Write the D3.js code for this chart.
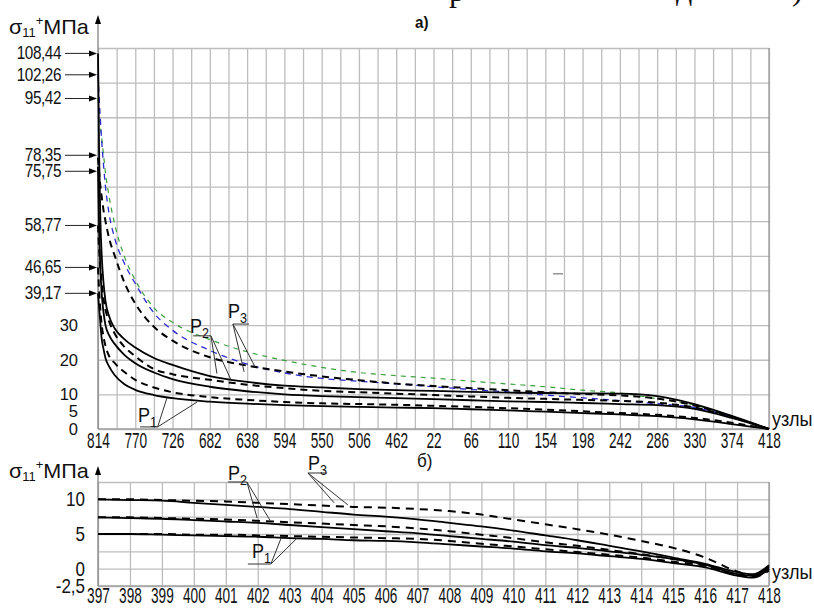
<!DOCTYPE html>
<html>
<head>
<meta charset="utf-8">
<script src="https://cdn.jsdelivr.net/npm/d3@7"></script>
<style>
  body { margin: 0; background: #fff; }
  svg { display: block; }
  text { font-family: "Liberation Sans", Arial, sans-serif; fill: #111; }
</style>
</head>
<body>
<div id="chart"></div>
<script>
// ---------- chart a) : stresses along nodes ----------
const nodesA = ["814","770","726","682","638","594","550","506","462","22","66","110","154","198","242","286","330","374","418"];
const yTicksA = [0, 5, 10, 20, 30];
const markedA = [108.44, 102.26, 95.42, 78.35, 75.75, 58.77, 46.65, 39.17];
// node position (index along the axis, fractional near the first node)
const posA = [0, 0.03, 0.06, 0.1, 0.15, 0.2, 0.3, 0.45, 0.7, 1, 1.5, 2, 3, 4, 5, 6, 7, 8, 9, 10, 11, 12, 13, 14, 15, 16, 17, 18];
const p3SolidA  = [108.44, 80, 62, 50, 42, 37, 32.5, 29, 26, 23.5, 20.5, 18.5, 15.3, 13.6, 12.5, 12.0, 11.5, 11.2, 11.0, 10.7, 10.5, 10.4, 10.3, 10.2, 9.5, 7.2, 3.8, 0];
const p3DashA   = [78.35, 74, 70.5, 67, 63, 60, 55, 50, 42.5, 36.2, 29.5, 25.5, 20.7, 18.3, 16.6, 15.2, 14.1, 13.1, 12.4, 11.8, 11.2, 10.6, 10.1, 9.7, 8.8, 6.8, 3.6, 0];
const blueDashA = [102.26, 96, 90, 83, 76, 70, 62, 55, 48, 42, 33.5, 28.5, 22.7, 18.7, 16.2, 14.6, 13.8, 13.0, 12.2, 11.4, 10.7, 9.8, 9.0, 8.2, 7.3, 6.2, 3.5, 0];
const greenDashA= [95.42, 92, 88, 84, 79, 74, 67, 59, 50, 43, 35, 30.8, 25.8, 22.3, 19.8, 17.8, 16.3, 15.4, 14.7, 13.8, 13.0, 12.2, 11.2, 10.4, 8.7, 6.9, 3.7, 0];
const p2SolidA  = [75.75, 58, 47, 39, 33.5, 30, 27, 24.5, 21.5, 19.0, 16.3, 14.4, 12.2, 10.9, 10.0, 9.5, 9.2, 8.9, 8.6, 8.3, 8.0, 7.8, 7.5, 7.2, 6.9, 5.8, 3.2, 0];
const p2DashA   = [58.77, 52, 47, 42, 37.5, 34.5, 31, 27.5, 23.8, 21, 17.3, 15.8, 14.2, 12.8, 11.8, 11.0, 10.6, 10.2, 9.8, 9.4, 9.0, 8.7, 8.4, 8.1, 7.6, 6.2, 3.4, 0];
const p1DashA   = [46.65, 40, 35, 30, 26.5, 24, 21, 19, 16.5, 14.2, 12.0, 10.6, 9.2, 8.4, 7.8, 7.4, 7.2, 7.0, 6.7, 6.4, 6.0, 5.6, 5.1, 4.6, 4.1, 3.2, 1.8, 0];
const p1SolidA  = [39.17, 35, 31, 26, 23, 20.5, 18, 15.5, 13, 11.3, 9.8, 8.9, 7.9, 7.3, 6.9, 6.6, 6.4, 6.2, 6.0, 5.7, 5.4, 5.0, 4.6, 4.2, 3.7, 2.8, 1.4, 0];

// ---------- chart б) : nodes 397..418 ----------
const nodesB = ["397","398","399","400","401","402","403","404","405","406","407","408","409","410","411","412","413","414","415","416","417","418"];
const yTicksB = [10, 5, 0, -2.5];
const posB = [0, 1, 2, 3, 4, 5, 6, 7, 8, 9, 10, 11, 12, 13, 14, 15, 16, 17, 18, 19, 20, 20.5, 21];
const p3SolidB = [10.0, 9.9, 9.8, 9.5, 9.2, 8.9, 8.6, 8.2, 7.8, 7.5, 7.1, 6.6, 6.1, 5.5, 4.8, 4.1, 3.3, 2.5, 1.6, 0.7, -0.5, -0.8, 0.5];
const p3DashB  = [10.0, 10.0, 9.9, 9.8, 9.7, 9.5, 9.3, 9.1, 8.9, 8.8, 8.6, 8.3, 7.8, 7.1, 6.4, 5.7, 4.9, 4.0, 3.0, 1.6, -0.4, -1.0, -0.2];
const p2SolidB = [7.4, 7.3, 7.2, 7.0, 6.8, 6.6, 6.3, 6.0, 5.7, 5.4, 5.1, 4.7, 4.3, 3.9, 3.4, 3.0, 2.5, 2.0, 1.4, 0.6, -0.8, -1.0, 0.3];
const p2DashB  = [7.4, 7.4, 7.3, 7.2, 7.1, 6.9, 6.7, 6.5, 6.3, 6.1, 5.8, 5.4, 4.9, 4.4, 3.8, 3.3, 2.7, 2.1, 1.4, 0.5, -0.9, -1.1, 0];
const p1SolidB = [5.0, 5.0, 4.9, 4.8, 4.7, 4.6, 4.4, 4.3, 4.1, 4.0, 3.8, 3.5, 3.2, 2.9, 2.5, 2.2, 1.8, 1.4, 0.8, 0.2, -1.0, -1.3, 0];
const p1DashB  = [5.0, 5.0, 5.0, 4.9, 4.9, 4.8, 4.7, 4.6, 4.5, 4.4, 4.3, 4.0, 3.6, 3.2, 2.8, 2.4, 2.0, 1.6, 1.0, 0.4, -0.8, -1.2, -0.3];

// callouts: label, text anchor, underline [from,to], leader targets  (data units)
const calloutsA = [
  { name: "P", sub: "2", at: [2.47, 27.7], bar: [[2.55, 26.9], [3.03, 26.9]], to: [[3.19, 16.0], [3.57, 14.1]] },
  { name: "P", sub: "3", at: [3.49, 32.0], bar: [[3.62, 30.3], [4.05, 30.3]], to: [[3.92, 16.5], [4.20, 18.2]] },
  { name: "P", sub: "1", at: [1.07, 1.9],  bar: [[1.13, 0.6],  [1.60, 0.6]],  to: [[1.85, 9.0],  [2.66, 7.8]] }
];
const calloutsB = [
  { name: "P", sub: "2", at: [4.07, 12.8], bar: [[4.07, 12.5], [4.66, 12.5]], to: [[4.98, 7.3], [5.38, 7.0]] },
  { name: "P", sub: "3", at: [6.57, 14.2], bar: [[6.57, 13.8], [7.17, 13.8]], to: [[7.39, 9.5], [7.82, 9.2]] },
  { name: "P", sub: "1", at: [4.82, 1.6],  bar: [[4.69, 0.67], [5.41, 0.67]], to: [[5.73, 4.4], [6.23, 4.4]] }
];
const strayMark = [12.34, 44.8];

const W = 814, H = 608;
const svg = d3.select("#chart").append("svg").attr("width", W).attr("height", H);

const xA = d3.scaleLinear().domain([0, nodesA.length - 1]).range([98, 769]);
const yA = d3.scaleLinear().domain([0, 110]).range([429, 48]);
const xB = d3.scaleLinear().domain([0, nodesB.length - 1]).range([98, 769]);
const yB = d3.scaleLinear().domain([-2.5, 12.5]).range([586, 482]);

const comma = v => String(v).replace(".", ",");

// condensed text helper
function txt(g, x, y, s, fs, sx, anchor) {
  return g.append("text")
    .attr("transform", `translate(${x},${y}) scale(${sx},1)`)
    .attr("text-anchor", anchor || "start")
    .style("font-size", fs + "px")
    .text(s);
}

function grid(x, y, xStep, yStep) {
  const g = svg.append("g");
  const [x0, x1] = x.domain(), [y0, y1] = y.domain();
  g.append("g").attr("transform", `translate(0,${y.range()[0]})`)
    .call(d3.axisBottom(x).tickValues(d3.range(x0, x1 + 1e-6, xStep))
      .tickSize(-(y.range()[0] - y.range()[1])).tickFormat(""));
  g.append("g").attr("transform", `translate(${x.range()[0]},0)`)
    .call(d3.axisLeft(y).tickValues(d3.range(y0, y1 + 1e-6, yStep))
      .tickSize(-(x.range()[1] - x.range()[0])).tickFormat(""));
  g.selectAll(".domain").remove();
  g.selectAll("line").attr("stroke", "#bdbdbd").attr("stroke-width", 1.3);
  // right border a bit darker
  g.append("line").attr("x1", x.range()[1]).attr("x2", x.range()[1])
    .attr("y1", y.range()[0]).attr("y2", y.range()[1])
    .attr("stroke", "#9a9a9a").attr("stroke-width", 1.3);
  return g;
}

function yArrowAxis(y, topY) {
  svg.append("line").attr("x1", 98).attr("x2", 98)
    .attr("y1", y.range()[0]).attr("y2", topY + 7)
    .attr("stroke", "#8a8a8a").attr("stroke-width", 1.4);
  svg.append("path")
    .attr("d", `M98,${topY} L95,${topY + 9} L101,${topY + 9} Z`)
    .attr("fill", "#000");
}

function xLabels(x, y, names, pad) {
  const g = svg.append("g").attr("transform", `translate(0,${y.range()[0]})`)
    .call(d3.axisBottom(x).tickValues(d3.range(names.length)).tickFormat(i => names[i])
      .tickSize(0).tickPadding(pad));
  g.select(".domain").remove();
  g.attr("font-size", null).attr("font-family", null);
  g.selectAll("text").style("font-size", "22px").attr("transform", "scale(0.62,1)").attr("fill", "#111");
  return g;
}

function yLabels(y, ticks, pad, fs, sx) {
  const g = svg.append("g").attr("transform", "translate(98,0)")
    .call(d3.axisLeft(y).tickValues(ticks).tickFormat(comma).tickSize(0).tickPadding(pad / sx));
  g.select(".domain").remove();
  g.attr("font-size", null).attr("font-family", null);
  g.selectAll("text").style("font-size", fs + "px").attr("transform", `scale(${sx},1)`).attr("fill", "#111");
  return g;
}

function curves(x, y, pos, list) {
  const line = d3.line().x(d => x(d[0])).y(d => y(d[1])).curve(d3.curveMonotoneX);
  list.forEach(s => {
    svg.append("path")
      .datum(pos.map((p, i) => [p, s.v[i]]))
      .attr("d", line)
      .attr("fill", "none")
      .attr("stroke", s.color)
      .attr("stroke-width", s.w)
      .attr("stroke-dasharray", s.dash || null)
      .attr("stroke-linejoin", "round");
  });
}

function callouts(x, y, list) {
  list.forEach(c => {
    const t = svg.append("text")
      .attr("transform", `translate(${x(c.at[0])},${y(c.at[1])}) scale(0.9,1)`)
      .style("font-size", "20px");
    t.append("tspan").text(c.name);
    t.append("tspan").attr("dy", 5).style("font-size", "14px").text(c.sub);
    const b0 = c.bar[0], b1 = c.bar[1];
    svg.append("line").attr("x1", x(b0[0])).attr("y1", y(b0[1])).attr("x2", x(b1[0])).attr("y2", y(b1[1]))
      .attr("stroke", "#333").attr("stroke-width", 1);
    const from = c.sub === "3" ? b0 : b1;
    c.to.forEach(p => {
      svg.append("line").attr("x1", x(from[0])).attr("y1", y(from[1])).attr("x2", x(p[0])).attr("y2", y(p[1]))
        .attr("stroke", "#333").attr("stroke-width", 1);
    });
  });
}

// ---------- fragments of the text line above (cropped page) ----------
[["р", 449, 1], ["д", 676, 0], [")", 792, 0]].forEach(d => {
  svg.append("text").attr("x", d[1]).attr("y", d[2]).style("font-size", "32px")
    .style("font-family", "'Liberation Serif','Times New Roman',serif").text(d[0]);
});

// ================= chart a) =================
grid(xA, yA, 0.5, 10);
svg.append("line").attr("x1", 98).attr("x2", 769).attr("y1", yA(0)).attr("y2", yA(0))
  .attr("stroke", "#a0a0a0").attr("stroke-width", 1.4);
yArrowAxis(yA, 15);

curves(xA, yA, posA, [
  { v: greenDashA, color: "#3aa03a", w: 1.2, dash: "5,5" },
  { v: blueDashA,  color: "#2a2ad0", w: 1.3, dash: "6,5" },
  { v: p3DashA,    color: "#000", w: 2, dash: "7,5" },
  { v: p2DashA,    color: "#000", w: 2, dash: "7,5" },
  { v: p1DashA,    color: "#000", w: 2, dash: "7,5" },
  { v: p3SolidA,   color: "#000", w: 1.8 },
  { v: p2SolidA,   color: "#000", w: 1.8 },
  { v: p1SolidA,   color: "#000", w: 1.8 }
]);

xLabels(xA, yA, nodesA, 3);
yLabels(yA, yTicksA, 20, 16.5, 1);

// marked start values with arrows (spread labels that would overlap)
const marks = markedA.map(v => ({ v, y: yA(v) })).sort((a, b) => a.y - b.y);
for (let i = 1; i < marks.length; i++) {
  if (marks[i].y - marks[i - 1].y < 16) {
    const gap = 16 - (marks[i].y - marks[i - 1].y);
    marks[i - 1].y -= gap / 3;
    marks[i].y += gap * 2 / 3;
  }
}
const mk = svg.append("g");
marks.forEach(m => {
  txt(mk, 61, m.y + 6, comma(m.v.toFixed(2)), 18, 0.85, "end").style("letter-spacing", "-0.5px");
  mk.append("line").attr("x1", 65).attr("x2", 90).attr("y1", m.y).attr("y2", m.y)
    .attr("stroke", "#222").attr("stroke-width", 1);
  mk.append("path").attr("d", `M97,${m.y} L89,${m.y - 3} L89,${m.y + 3} Z`).attr("fill", "#000");
});

svg.append("line")
  .attr("x1", xA(strayMark[0]) - 5).attr("x2", xA(strayMark[0]) + 5)
  .attr("y1", yA(strayMark[1])).attr("y2", yA(strayMark[1]))
  .attr("stroke", "#777").attr("stroke-width", 1.2);

callouts(xA, yA, calloutsA);

// axis titles
function sigmaTitle(x, y) {
  const t = svg.append("text").attr("transform", `translate(${x},${y}) scale(1.08,1)`).style("font-size", "20px");
  t.append("tspan").text("σ");
  t.append("tspan").attr("dy", 3).style("font-size", "12px").text("11");
  t.append("tspan").attr("dy", -12).style("font-size", "12px").text("+");
  t.append("tspan").attr("dy", 9).text("МПа");
}
sigmaTitle(9, 34);
txt(svg, 772, 426, "узлы", 20, 0.9);
txt(svg, 415, 28, "а)", 16, 0.95).style("font-weight", "bold").attr("fill", "#333");

// ================= chart б) =================
grid(xB, yB, 1, 2.5);
svg.append("line").attr("x1", 98).attr("x2", 769).attr("y1", yB(-2.5)).attr("y2", yB(-2.5))
  .attr("stroke", "#a0a0a0").attr("stroke-width", 1.4);
yArrowAxis(yB, 466);

curves(xB, yB, posB, [
  { v: p3DashB,  color: "#000", w: 2, dash: "8,6" },
  { v: p2DashB,  color: "#000", w: 2, dash: "8,6" },
  { v: p1DashB,  color: "#000", w: 2, dash: "8,6" },
  { v: p3SolidB, color: "#000", w: 1.8 },
  { v: p2SolidB, color: "#000", w: 1.8 },
  { v: p1SolidB, color: "#000", w: 1.8 }
]);

xLabels(xB, yB, nodesB, 1);
yLabels(yB, yTicksB, 13, 20, 0.85);
callouts(xB, yB, calloutsB);

sigmaTitle(9, 478);
txt(svg, 772, 579, "узлы", 20, 0.9);
txt(svg, 417, 467, "б)", 18, 0.95);
</script>
</body>
</html>
